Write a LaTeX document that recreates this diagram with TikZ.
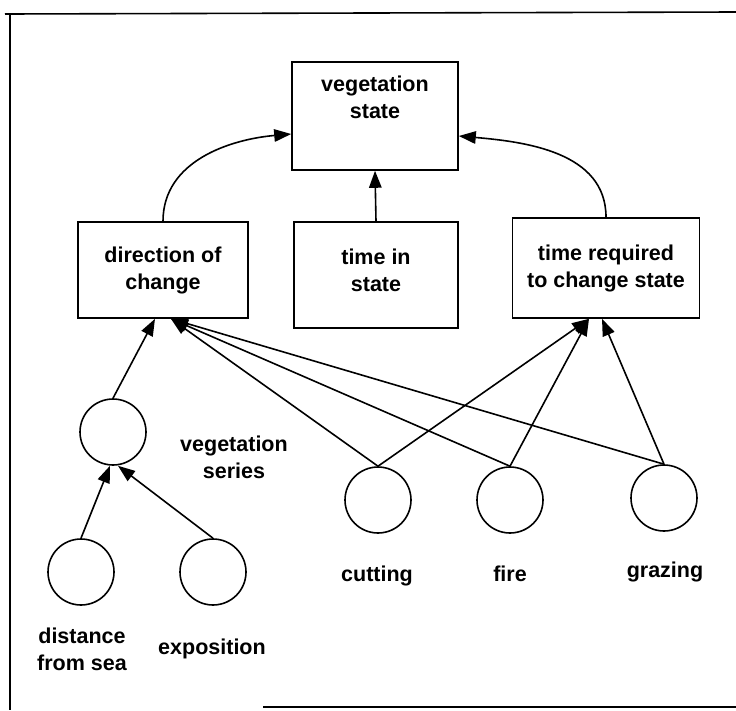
\documentclass[tikz,border=0pt]{standalone}
\usepackage{fontspec}
\setmainfont{Liberation Sans}
\usetikzlibrary{arrows.meta}
\begin{document}
\begin{tikzpicture}[x=1pt,y=-1pt,
  line width=1.6pt,
  lbl/.style={font=\bfseries\fontsize{21.5}{27}\selectfont, align=center, inner sep=0pt},
  box/.style={draw, rectangle, lbl},
  var/.style={draw, circle, minimum size=66pt, inner sep=0pt},
  link/.style={-{Triangle[length=17pt,width=12.5pt]}},
  plain/.style={line width=1.6pt}]
\useasboundingbox (0,0) rectangle (736,710);
\fill[white] (0,0) rectangle (736,710);

% frame
\draw[plain] (5,14) -- (736,12);
\draw[plain] (10,14) -- (10,710);
\draw[plain] (263,707) -- (736,707);

% state boxes
\node[box, minimum width=166pt, minimum height=108pt] (veg) at (375,116) {};
\node[lbl] (vegl) at (375,97) {vegetation\\state};
\node[box, minimum width=170pt, minimum height=96pt] (dir) at (163,270) {direction of\\change};
\node[box, minimum width=164pt, minimum height=106pt] (tin) at (376,275) {};
\node[lbl] (tinl) at (376,270) {time in\\state};
\node[box, minimum width=187pt, minimum height=100pt] (treq) at (606,268) {time required\\to change state};

% factor circles
\node[var] (ser) at (113,432) {};
\node[var] (sea) at (81,572) {};
\node[var] (exp) at (213,572) {};
\node[var] (cut) at (378,500) {};
\node[var] (fir) at (510,500) {};
\node[var] (gra) at (664,498) {};

% circle labels
\node[lbl] (serl) at (234,457) {vegetation\\series};
\node[lbl] (seal) at (82,649) {distance\\from sea};
\node[lbl] (expl) at (212,649) {exposition};
\node[lbl] (cutl) at (377,576) {cutting};
\node[lbl] (firl) at (510,574) {fire};
\node[lbl] (gral) at (665,572) {grazing};

% influences on the vegetation state
\draw[link] (dir.north) to[out=90,in=185] ([yshift=-18pt]veg.west);
\draw[link] (tin.north) -- (veg.south);
\draw[link] (treq.north) to[out=90,in=-5] ([yshift=-20pt]veg.east);

% influences on the direction of change
\draw[link] (ser.north) -- ([xshift=-8pt]dir.south);
\draw[link] (cut.north) -- ([xshift=8pt]dir.south);
\draw[link] (fir.north) -- ([xshift=8pt]dir.south);
\draw[link] (gra.north) -- ([xshift=8pt]dir.south);

% influences on the time required
\draw[link] (cut.north) -- ([xshift=-17pt]treq.south);
\draw[link] (fir.north) -- ([xshift=-17pt]treq.south);
\draw[link] (gra.north) -- ([xshift=-4pt]treq.south);

% influences on the vegetation series
\draw[link] (sea.north) -- ([xshift=-3pt]ser.south);
\draw[link] (exp.north) -- ([xshift=5pt]ser.south);
\end{tikzpicture}
\end{document}
